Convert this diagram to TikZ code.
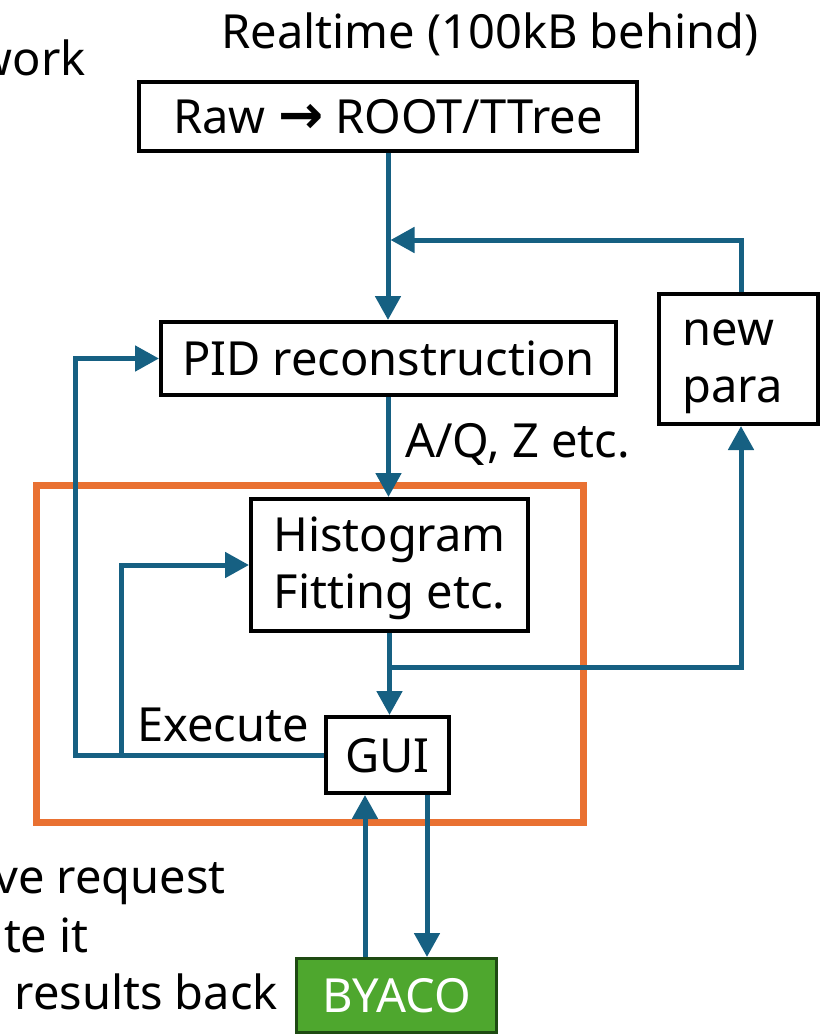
\documentclass[tikz,border=0pt]{standalone}
\usepackage{fontspec}
\setmainfont{Noto Sans}
\newfontfamily\arrowfont{DejaVu Sans}
\usetikzlibrary{arrows.meta}
\definecolor{flowblue}{RGB}{22,96,130}
\definecolor{frameorange}{RGB}{233,113,50}
\definecolor{byacogreen}{RGB}{78,167,46}
\definecolor{byacoedge}{RGB}{30,74,18}
\newcommand{\firstline}{\rule{0pt}{42pt}}

\begin{document}
\begin{tikzpicture}[x=1pt,y=-1pt,
  font=\fontsize{47}{57}\selectfont,
  box/.style={draw=black, line width=4pt, fill=white, inner sep=0pt, align=center},
  oneline/.style={text height=34pt, text depth=0pt},
  txt/.style={inner sep=0pt},
  flow/.style={draw=flowblue, line width=5pt},
  flowarrow/.style={flow, -{Triangle[length=24pt,width=25pt]}}
]
\useasboundingbox (0,0) rectangle (821,1036);

% frame around the analysis stage
\draw[frameorange, line width=7pt] (36.5,485.5) rectangle (583.5,822.5);

% free text
\node[txt, anchor=base] (rt) at (490,48) {Realtime (100kB behind)};
\node[txt, anchor=base east] (nw) at (86,75) {work};
\node[txt, anchor=base west] (aq) at (405,457) {A/Q, Z etc.};
\node[txt, anchor=base west] (exe) at (137,741) {Execute};
\node[txt, anchor=base east] (l1) at (226,893) {ve request};
\node[txt, anchor=base east] (l2) at (89,952) {te it};
\node[txt, anchor=base east] (l3) at (278,1009) {results back};

% processing boxes
\node[box, oneline, minimum width=498pt, minimum height=69pt] (raw) at (388,116.5)
  {Raw {\arrowfont\bfseries\fontsize{54}{57}\selectfont →} ROOT/TTree};
\node[box, oneline, minimum width=455pt, minimum height=73pt] (pid) at (388.5,358.5)
  {PID reconstruction};
\node[box, minimum width=277pt, minimum height=132pt] (hist) at (389.5,565)
  {\firstline Histogram\\Fitting etc.};
\node[box, minimum width=159pt, minimum height=130pt, text width=112pt, align=left]
  (newpara) at (738.5,359) {\firstline new\\para};
\node[box, oneline, minimum width=123pt, minimum height=76pt] (gui) at (387.5,755) {GUI};
\node[box, oneline, draw=byacoedge, fill=byacogreen, line width=3pt, text=white,
  minimum width=200pt, minimum height=74pt] (byaco) at (396.5,995.5) {BYACO};

% routing points
\coordinate (fb) at (741,240);
\coordinate (br) at (390,667);
\coordinate (exL) at (75,755);
\coordinate (exM) at (121,755);
\coordinate (up) at (365,876);
\coordinate (dn) at (427,876);

% connectors
\draw[flowarrow] (raw.south) -- (raw.south |- pid.north);
\draw[flowarrow] (fb |- newpara.north) -- (fb) -- ([xshift=2.5pt]raw.south |- fb);
\draw[flowarrow] (pid.south) -- (pid.south |- hist.north);
\draw[flowarrow] (hist.south) -- (hist.south |- gui.north);
\draw[flowarrow] (br) -| (fb |- newpara.south);
\draw[flowarrow] (gui.west) -- (exL) |- (pid.west);
\draw[flowarrow] (exM) |- (hist.west);
\draw[flowarrow] (up |- byaco.north) -- (up |- gui.south);
\draw[flowarrow] (dn |- gui.south) -- (dn |- byaco.north);
\end{tikzpicture}
\end{document}
